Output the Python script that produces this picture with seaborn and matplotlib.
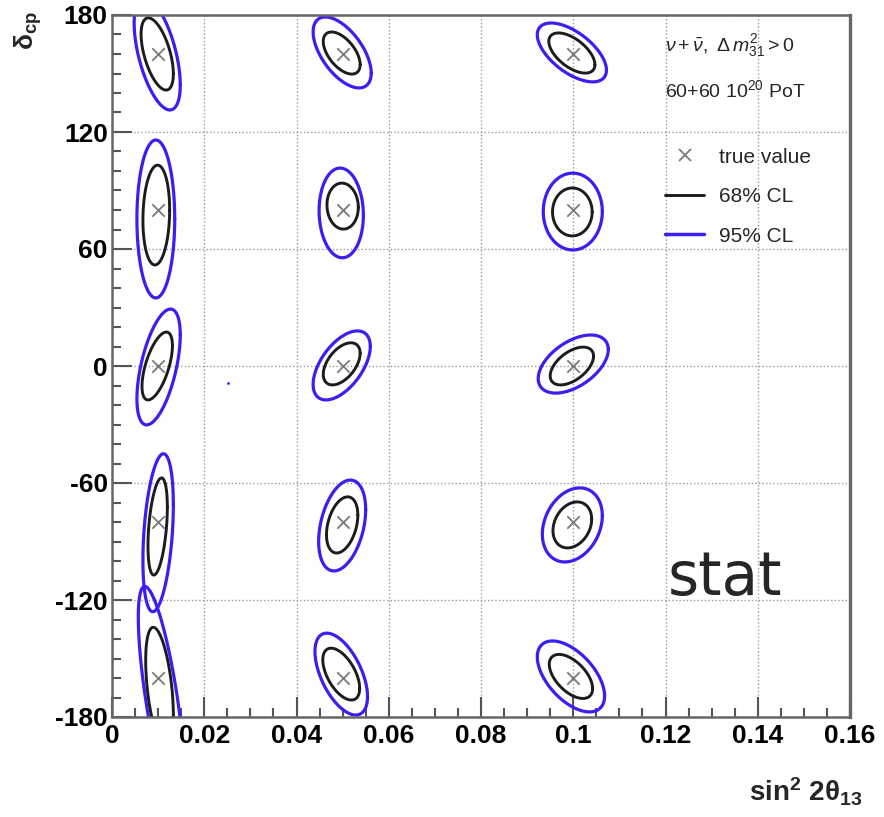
import numpy as np
import pandas as pd
import matplotlib
matplotlib.use("Agg")
import matplotlib.pyplot as plt
from matplotlib.lines import Line2D
from matplotlib.ticker import MultipleLocator, FixedLocator, FixedFormatter
import seaborn as sns

# ---------------- data ----------------
x_true = [0.01] * 5 + [0.05] * 5 + [0.1] * 5
y_true = [160, 80, 0, -80, -160] * 3

# 68% CL contours: centre, half-width in x, half-height in y, correlation
c68_x = [0.0098, 0.0096, 0.0098, 0.0099, 0.0103,
         0.0498, 0.0500, 0.0498, 0.0499, 0.0497,
         0.0997, 0.0998, 0.0997, 0.0998, 0.0995]
c68_y = [160, 77.4, 0, -82.3, -165,
         160.5, 82, 1.1, -81.5, -158,
         160.5, 79, 0, -81.5, -159.2]
a68 = [0.0035, 0.0029, 0.0033, 0.0021, 0.0030,
       0.0040, 0.0034, 0.0040, 0.0034, 0.0040,
       0.0050, 0.0043, 0.0047, 0.0042, 0.0047]
b68 = [18.5, 25.6, 17.4, 24.9, 31,
       10.8, 11.8, 10.8, 14.4, 13.3,
       10.3, 12.3, 9.7, 11.8, 11.3]
r68 = [-0.55, 0.1, 0.6, 0.4, -0.45,
       -0.55, -0.05, 0.5, 0.35, -0.55,
       -0.58, 0.0, 0.52, 0.25, -0.55]

# 95% CL contours
c95_x = [0.0098, 0.0095, 0.0101, 0.0100, 0.0107,
         0.0499, 0.0497, 0.0498, 0.0499, 0.0497,
         0.0997, 0.0999, 0.1000, 0.0998, 0.0995]
c95_y = [160, 75.4, -0.5, -85.5, -170,
         160.8, 78.5, 0.3, -81.8, -158,
         160.8, 79.2, 1, -81.5, -159.2]
a95 = [0.0050, 0.0041, 0.0047, 0.0033, 0.0050,
       0.0063, 0.0048, 0.0062, 0.0051, 0.0057,
       0.0075, 0.0064, 0.0076, 0.0065, 0.0073]
b95 = [28.7, 40.5, 29.7, 40.5, 57,
       18.2, 23, 17.7, 23.3, 21,
       15.1, 19.7, 14.9, 19, 18.2]
r95 = [-0.55, 0.0, 0.55, 0.35, -0.72,
       -0.58, -0.05, 0.55, 0.35, -0.55,
       -0.6, 0.0, 0.5, 0.25, -0.55]

island_x = [0.0252]
island_y = [-8.7]

x_ticks = [0, 0.02, 0.04, 0.06, 0.08, 0.1, 0.12, 0.14, 0.16]
x_ticklabels = ["0", "0.02", "0.04", "0.06", "0.08", "0.1", "0.12", "0.14", "0.16"]
y_ticks = [-180, -120, -60, 0, 60, 120, 180]
y_ticklabels = ["-180", "-120", "-60", "0", "60", "120", "180"]

BLACK = "#1c1c1c"
BLUE = "#3a1ef2"
GRAY = "#7a7a7a"

# -------------- contour table --------------
t = np.linspace(0, 2 * np.pi, 240)
rows = []
eid = 0
for label, cx, cy, aa, bb, rr in [("95% CL", c95_x, c95_y, a95, b95, r95),
                                  ("68% CL", c68_x, c68_y, a68, b68, r68)]:
    for i in range(len(cx)):
        xs = cx[i] + aa[i] * np.cos(t)
        ys = cy[i] + bb[i] * (rr[i] * np.cos(t) + np.sqrt(1 - rr[i] ** 2) * np.sin(t))
        for xv, yv in zip(xs, ys):
            rows.append((eid, label, xv, yv))
        eid += 1
df = pd.DataFrame(rows, columns=["eid", "cl", "x", "y"])

# -------------- style --------------
sns.set_style("white")
plt.rcParams["font.family"] = ["Liberation Sans", "DejaVu Sans"]
plt.rcParams["axes.unicode_minus"] = False
plt.rcParams["mathtext.fontset"] = "custom"
plt.rcParams["mathtext.rm"] = "Liberation Sans"
plt.rcParams["mathtext.it"] = "Liberation Sans:italic"
plt.rcParams["mathtext.bf"] = "Liberation Sans:bold"

fig = plt.figure(figsize=(8.84, 8.17), dpi=100)
ax = fig.add_axes([112 / 884, 100 / 817, 738 / 884, 702 / 817])

sns.lineplot(data=df[df.cl == "95% CL"], x="x", y="y", units="eid", estimator=None,
             sort=False, color=BLUE, lw=2.3, ax=ax, legend=False)
sns.lineplot(data=df[df.cl == "68% CL"], x="x", y="y", units="eid", estimator=None,
             sort=False, color=BLACK, lw=2.1, ax=ax, legend=False)
sns.scatterplot(x=x_true, y=y_true, marker="x", color=GRAY, s=80, linewidth=1.3,
                ax=ax, legend=False, zorder=5)
sns.scatterplot(x=island_x, y=island_y, marker="o", color=BLUE, s=4, linewidth=0,
                ax=ax, legend=False)

ax.set_xlim(0, 0.16)
ax.set_ylim(-180, 180)
ax.set_xlabel("")
ax.set_ylabel("")

ax.xaxis.set_major_locator(FixedLocator(x_ticks))
ax.xaxis.set_major_formatter(FixedFormatter(x_ticklabels))
ax.yaxis.set_major_locator(FixedLocator(y_ticks))
ax.yaxis.set_major_formatter(FixedFormatter(y_ticklabels))
ax.xaxis.set_minor_locator(MultipleLocator(0.005))
ax.yaxis.set_minor_locator(MultipleLocator(10))

ax.tick_params(which="both", direction="in", colors="#555555", width=1.5,
               bottom=True, left=True, top=False, right=False, labelcolor="black")
ax.tick_params(which="major", length=14.5)
ax.tick_params(which="minor", length=6.5)
ax.tick_params(axis="y", which="major", pad=3)
ax.tick_params(axis="x", which="major", pad=5)
for lab in ax.get_xticklabels() + ax.get_yticklabels():
    lab.set_fontsize(19)
    lab.set_fontweight("bold")

ax.grid(True, which="major", color="#9a9a9a", lw=1.0, ls=(0, (1, 1.6)))
ax.set_axisbelow(True)
for side in ["left", "bottom", "top", "right"]:
    ax.spines[side].set_color("#666666")
    ax.spines[side].set_linewidth(1.8)
ax.spines["right"].set_linewidth(2.4)

# header text
ax.text(0.749, 0.957, r"$\nu+\bar{\nu},\ \Delta\, m^{2}_{31} > 0$", transform=ax.transAxes,
        fontsize=14, ha="left", va="center")
ax.text(0.749, 0.893, r"60+60 10$^{20}$ PoT", transform=ax.transAxes,
        fontsize=14, ha="left", va="center")

handles = [Line2D([], [], marker="x", ls="none", color=GRAY, ms=9, mew=1.3),
           Line2D([], [], color=BLACK, lw=2.1),
           Line2D([], [], color=BLUE, lw=2.5)]
ax.legend(handles, ["true value", "68% CL", "95% CL"], loc="upper left",
          bbox_to_anchor=(0.749, 0.811), frameon=False, fontsize=15,
          borderpad=0, borderaxespad=0, handlelength=1.9, handletextpad=0.7,
          labelspacing=0.98)

ax.text(0.753, 0.174, "stat", transform=ax.transAxes, fontsize=43,
        family="DejaVu Sans", ha="left", va="baseline")

fig.text(862 / 884, 1 - 792 / 817, r"$\mathbf{sin^{2}\ 2\theta_{13}}$", fontsize=20,
         ha="right", va="center")
fig.text(28 / 884, 1 - 30 / 817, r"$\mathbf{\delta_{cp}}$", fontsize=19, rotation=90,
         ha="center", va="center")

fig.savefig("out.png", dpi=100)
